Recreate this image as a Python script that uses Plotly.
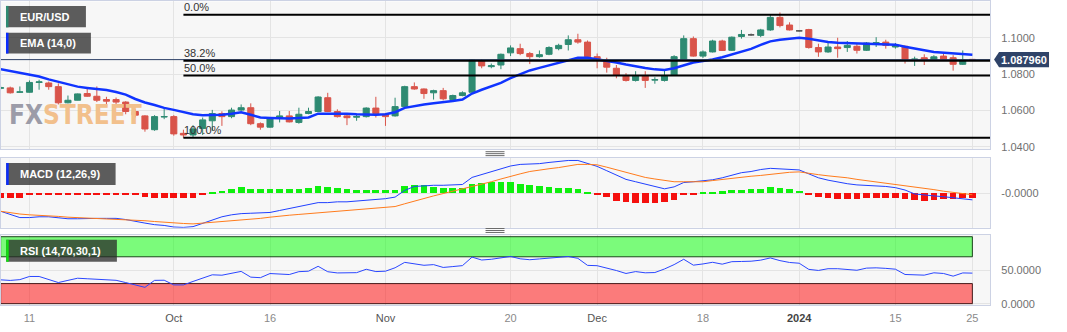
import plotly.graph_objects as go
import pandas as pd

W, H = 1067, 332

# ---------------- data ----------------
dates = [d.strftime("%Y-%m-%d") for d in pd.bdate_range("2023-09-06", "2024-01-25")]
tick_dates = ["2023-09-11", "2023-10-02", "2023-10-16", "2023-11-01", "2023-11-20",
              "2023-12-01", "2023-12-18", "2024-01-01", "2024-01-15", "2024-01-25"]
tick_text = ["11", "<span style='color:#555'>Oct</span>", "16", "<span style='color:#555'>Nov</span>", "20",
             "<span style='color:#555'>Dec</span>", "18", "<b><span style='color:#444'>2024</span></b>", "15", "25"]
flat_sessions = ["2023-12-25", "2024-01-01"]

open_ = [1.0722, 1.0724, 1.0700, 1.0700, 1.0754, 1.0751, 1.0731, 1.0642, 1.0656, 1.0693,
         1.0678, 1.0660, 1.0660, 1.0646, 1.0594, 1.0570, 1.0494, 1.0564, 1.0566, 1.0474,
         1.0465, 1.0501, 1.0543, 1.0583, 1.0566, 1.0602, 1.0615, 1.0527, 1.0508, 1.0561,
         1.0570, 1.0534, 1.0583, 1.0594, 1.0670, 1.0594, 1.0570, 1.0563, 1.0566, 1.0613,
         1.0579, 1.0570, 1.0621, 1.0731, 1.0718, 1.0697, 1.0709, 1.0660, 1.0682, 1.0700,
         1.0873, 1.0841, 1.0850, 1.0917, 1.0940, 1.0913, 1.0896, 1.0909, 1.0940, 1.0963,
         1.0989, 1.0976, 1.0896, 1.0873, 1.0832, 1.0790, 1.0765, 1.0790, 1.0767, 1.0765,
         1.0795, 1.0877, 1.0995, 1.0899, 1.0922, 1.0982, 1.0931, 1.1007, 1.1016, 1.1013,
         1.1043, 1.1112, 1.1070, 1.1038, 1.1045, 1.0946, 1.0922, 1.0949, 1.0946, 1.0953,
         1.0931, 1.0971, 1.0976, 1.0949, 1.0953, 1.0881, 1.0890, 1.0877, 1.0899, 1.0890,
         1.0854, 1.0881]
high = [1.0736, 1.0731, 1.0732, 1.0765, 1.0769, 1.0759, 1.0749, 1.0682, 1.0693, 1.0718,
        1.0732, 1.0675, 1.0671, 1.0651, 1.0606, 1.0574, 1.0574, 1.0610, 1.0574, 1.0494,
        1.0519, 1.0561, 1.0603, 1.0595, 1.0615, 1.0633, 1.0639, 1.0534, 1.0563, 1.0597,
        1.0597, 1.0615, 1.0615, 1.0678, 1.0697, 1.0606, 1.0579, 1.0579, 1.0617, 1.0675,
        1.0584, 1.0670, 1.0736, 1.0754, 1.0721, 1.0714, 1.0724, 1.0687, 1.0705, 1.0881,
        1.0881, 1.0858, 1.0913, 1.0958, 1.0967, 1.0922, 1.0930, 1.0953, 1.0967, 1.1013,
        1.1022, 1.0985, 1.0913, 1.0890, 1.0850, 1.0805, 1.0816, 1.0816, 1.0783, 1.0819,
        1.0904, 1.1013, 1.1007, 1.0930, 1.0989, 1.0989, 1.1007, 1.1043, 1.1023, 1.1049,
        1.1126, 1.1139, 1.1085, 1.1040, 1.1049, 1.0967, 1.0971, 1.1000, 1.0982, 1.0967,
        1.0976, 1.1003, 1.0989, 1.0971, 1.0958, 1.0896, 1.0909, 1.0904, 1.0913, 1.0904,
        1.0930, 1.0882]
low = [1.0714, 1.0693, 1.0698, 1.0698, 1.0714, 1.0714, 1.0633, 1.0639, 1.0655, 1.0675,
       1.0646, 1.0624, 1.0628, 1.0579, 1.0561, 1.0483, 1.0488, 1.0552, 1.0461, 1.0449,
       1.0454, 1.0465, 1.0488, 1.0515, 1.0557, 1.0597, 1.0519, 1.0494, 1.0505, 1.0534,
       1.0534, 1.0527, 1.0579, 1.0591, 1.0591, 1.0561, 1.0519, 1.0543, 1.0561, 1.0561,
       1.0515, 1.0566, 1.0615, 1.0714, 1.0664, 1.0660, 1.0656, 1.0651, 1.0678, 1.0698,
       1.0832, 1.0832, 1.0827, 1.0899, 1.0904, 1.0855, 1.0890, 1.0904, 1.0931, 1.0930,
       1.0967, 1.0890, 1.0832, 1.0808, 1.0777, 1.0759, 1.0759, 1.0724, 1.0747, 1.0759,
       1.0790, 1.0872, 1.0896, 1.0889, 1.0919, 1.0927, 1.0927, 1.0995, 1.1011, 1.1003,
       1.1038, 1.1057, 1.1040, 1.1034, 1.0940, 1.0895, 1.0917, 1.0890, 1.0922, 1.0913,
       1.0927, 1.0949, 1.0940, 1.0940, 1.0858, 1.0845, 1.0850, 1.0873, 1.0873, 1.0819,
       1.0850, 1.0877]
close = [1.0725, 1.0697, 1.0702, 1.0754, 1.0757, 1.0731, 1.0642, 1.0656, 1.0691, 1.0678,
         1.0656, 1.0651, 1.0646, 1.0594, 1.0574, 1.0498, 1.0566, 1.0566, 1.0471, 1.0465,
         1.0498, 1.0548, 1.0583, 1.0566, 1.0602, 1.0615, 1.0527, 1.0508, 1.0561, 1.0570,
         1.0537, 1.0579, 1.0594, 1.0674, 1.0594, 1.0566, 1.0560, 1.0566, 1.0613, 1.0583,
         1.0566, 1.0621, 1.0731, 1.0718, 1.0693, 1.0709, 1.0664, 1.0682, 1.0697, 1.0877,
         1.0845, 1.0846, 1.0909, 1.0944, 1.0913, 1.0896, 1.0907, 1.0946, 1.0958, 1.0989,
         1.0976, 1.0896, 1.0884, 1.0838, 1.0795, 1.0765, 1.0790, 1.0765, 1.0769, 1.0790,
         1.0896, 1.0995, 1.0899, 1.0922, 1.0982, 1.0930, 1.1003, 1.1018, 1.1016, 1.1043,
         1.1112, 1.1067, 1.1043, 1.1038, 1.0946, 1.0922, 1.0949, 1.0940, 1.0958, 1.0931,
         1.0971, 1.0972, 1.0958, 1.0958, 1.0881, 1.0882, 1.0877, 1.0895, 1.0881, 1.0854,
         1.0877, 1.08796]
ema14 = [1.0827, 1.0817, 1.0806, 1.0795, 1.0787, 1.0771, 1.0758, 1.0745, 1.0731, 1.0724,
         1.0718, 1.0712, 1.0701, 1.0687, 1.0663, 1.0644, 1.0630, 1.0614, 1.0603, 1.0590,
         1.0579, 1.0574, 1.0574, 1.0576, 1.0582, 1.0590, 1.0576, 1.0561, 1.0559, 1.0556,
         1.0556, 1.0559, 1.0561, 1.0582, 1.0583, 1.0583, 1.0582, 1.0579, 1.0576, 1.0576,
         1.0579, 1.0590, 1.0614, 1.0625, 1.0633, 1.0639, 1.0644, 1.0652, 1.0660, 1.0693,
         1.0714, 1.0731, 1.0752, 1.0778, 1.0798, 1.0820, 1.0834, 1.0847, 1.0861, 1.0874,
         1.0890, 1.0890, 1.0882, 1.0874, 1.0864, 1.0853, 1.0842, 1.0834, 1.0826, 1.0823,
         1.0832, 1.0850, 1.0864, 1.0872, 1.0880, 1.0893, 1.0907, 1.0923, 1.0939, 1.0961,
         1.0980, 1.0989, 1.0996, 1.1000, 1.0994, 1.0984, 1.0977, 1.0973, 1.0971, 1.0969,
         1.0967, 1.0966, 1.0965, 1.0962, 1.0950, 1.0939, 1.0931, 1.0922, 1.0918, 1.0913,
         1.0909, 1.0907]
macd = [-0.0045, -0.0054, -0.0061, -0.0061, -0.0059, -0.0059, -0.0061, -0.0064, -0.0064, -0.0063,
        -0.0063, -0.0063, -0.0063, -0.0066, -0.0071, -0.0075, -0.0079, -0.0081, -0.0085, -0.0086,
        -0.0084, -0.0075, -0.0066, -0.0059, -0.0054, -0.0051, -0.0050, -0.0049, -0.0048, -0.0043,
        -0.0038, -0.0033, -0.0028, -0.0023, -0.0023, -0.0021, -0.0021, -0.0019, -0.0017, -0.0015,
        -0.0013, -0.0009, 0.0008, 0.0018, 0.0020, 0.0021, 0.0021, 0.0022, 0.0023, 0.0041,
        0.0048, 0.0054, 0.0061, 0.0070, 0.0074, 0.0075, 0.0076, 0.0079, 0.0081, 0.0084,
        0.0084, 0.0076, 0.0069, 0.0058, 0.0046, 0.0036, 0.0030, 0.0024, 0.0018, 0.0012,
        0.0017, 0.0028, 0.0030, 0.0033, 0.0035, 0.0040, 0.0046, 0.0053, 0.0056, 0.0061,
        0.0064, 0.0063, 0.0062, 0.0060, 0.0050, 0.0040, 0.0034, 0.0029, 0.0025, 0.0022,
        0.0021, 0.0019, 0.0018, 0.0015, 0.0009, -0.0001, -0.0004, -0.0006, -0.0008, -0.0011,
        -0.0014, -0.0016]
signal = [-0.0045, -0.0049, -0.0052, -0.0054, -0.0055, -0.0057, -0.0058, -0.0060, -0.0061, -0.0062,
          -0.0063, -0.0064, -0.0066, -0.0067, -0.0068, -0.0069, -0.0071, -0.0073, -0.0075, -0.0076,
          -0.0077, -0.0075, -0.0073, -0.0072, -0.0070, -0.0068, -0.0066, -0.0063, -0.0060, -0.0057,
          -0.0055, -0.0053, -0.0051, -0.0049, -0.0047, -0.0044, -0.0042, -0.0040, -0.0039, -0.0037,
          -0.0035, -0.0033, -0.0026, -0.0019, -0.0013, -0.0006, 0.0000, 0.0006, 0.0012, 0.0018,
          0.0023, 0.0030, 0.0037, 0.0044, 0.0050, 0.0056, 0.0060, 0.0063, 0.0066, 0.0070,
          0.0074, 0.0074, 0.0073, 0.0067, 0.0060, 0.0053, 0.0046, 0.0041, 0.0037, 0.0033,
          0.0030, 0.0030, 0.0030, 0.0030, 0.0033, 0.0036, 0.0039, 0.0041, 0.0044, 0.0046,
          0.0049, 0.0051, 0.0054, 0.0055, 0.0051, 0.0048, 0.0045, 0.0043, 0.0040, 0.0036,
          0.0033, 0.0030, 0.0026, 0.0023, 0.0020, 0.0017, 0.0013, 0.0010, 0.0006, 0.0003,
          0.0000, -0.0003]
hist = [-0.0012, -0.0012, -0.0012, -0.0003, -0.0003, -0.0002, -0.0002, -0.0002, -0.0002, -0.0002,
        -0.0003, -0.0003, -0.0003, -0.0003, -0.0004, -0.0009, -0.0011, -0.0011, -0.0012, -0.0012,
        -0.0011, -0.0003, 0.0003, 0.0007, 0.0011, 0.0017, 0.0011, 0.0010, 0.0010, 0.0010,
        0.0011, 0.0011, 0.0013, 0.0018, 0.0016, 0.0013, 0.0010, 0.0009, 0.0009, 0.0009,
        0.0009, 0.0009, 0.0018, 0.0020, 0.0020, 0.0017, 0.0014, 0.0013, 0.0014, 0.0023,
        0.0026, 0.0028, 0.0028, 0.0028, 0.0025, 0.0021, 0.0018, 0.0015, 0.0014, 0.0014,
        0.0011, 0.0003, -0.0002, -0.0010, -0.0019, -0.0023, -0.0025, -0.0025, -0.0025, -0.0023,
        -0.0016, -0.0002, -0.0002, 0.0002, 0.0004, 0.0005, 0.0009, 0.0009, 0.0011, 0.0011,
        0.0015, 0.0013, 0.0011, 0.0007, -0.0002, -0.0010, -0.0013, -0.0015, -0.0015, -0.0015,
        -0.0013, -0.0012, -0.0012, -0.0012, -0.0015, -0.0017, -0.0019, -0.0016, -0.0015, -0.0015,
        -0.0013, -0.0011]
rsi = [35.6, 34.7, 35.9, 40.6, 40.6, 36.2, 31.5, 34.8, 38.0, 37.2,
       36.5, 36.0, 34.9, 31.5, 28.1, 24.4, 34.8, 35.0, 28.0, 28.0,
       33.2, 38.5, 43.1, 42.5, 45.5, 48.2, 39.6, 38.8, 45.0, 43.8,
       43.5, 47.8, 48.5, 55.8, 47.7, 45.9, 45.7, 46.3, 51.4, 47.9,
       48.5, 53.6, 61.7, 59.7, 57.3, 58.3, 54.1, 55.4, 56.8, 69.5,
       65.2, 66.3, 68.2, 70.5, 67.0, 65.6, 66.8, 68.0, 69.2, 70.4,
       67.7, 57.2, 56.7, 53.3, 49.5, 45.1, 47.9, 46.1, 46.5, 51.8,
       58.3, 66.3, 57.5, 59.3, 61.8, 59.0, 62.7, 63.0, 63.4, 65.0,
       68.3, 64.3, 61.5, 60.4, 51.2, 49.6, 52.2, 52.2, 50.8, 49.9,
       53.1, 53.5, 52.7, 51.5, 43.6, 43.1, 42.6, 46.1, 45.1, 41.1,
       45.9, 45.6]
rsi_levels = [30, 70]

fib_labels = ["0.0%", "38.2%", "50.0%", "100.0%"]
fib_prices = [1.1126, 1.0873, 1.0792, 1.0450]
fib_start = "2023-10-03"

# ---------------- styling / geometry ----------------
FONT = "Liberation Sans, Arial, sans-serif"
TEAL, RED, GREY = "#2e8a72", "#d9544a", "#555555"
GRID, BORDER, BG = "#e4e4e4", "#ccd2e4", "#f7f7f7"

def fx(px):
    return px / W

def fy(py):
    return 1 - py / H

n = len(dates)
xs = list(range(n))
tickvals = [dates.index(d) for d in tick_dates]
flat_idx = [dates.index(d) for d in flat_sessions]
main_idx = [k for k in xs if k not in flat_idx]
X_RANGE = [0.04, 102.84]
P_RANGE = [1.03865, 1.11995]
M_RANGE = [-0.00868, 0.00898]
R_RANGE = [-2.35, 102.5]
PX_PER_PRICE = 1845.0

fig = go.Figure()

# watermark (drawn first so the candles sit above it)
wx = X_RANGE[0] + (42 / 990) * (X_RANGE[1] - X_RANGE[0])
wy = P_RANGE[1] - (118 / 150) * (P_RANGE[1] - P_RANGE[0])
wm_font = "Liberation Sans Narrow, DejaVu Sans Condensed, Arial Narrow, sans-serif"
fig.add_trace(go.Scatter(x=[wx], y=[wy], mode="text", text=["<b>FX</b>"], textposition="middle left",
                         textfont=dict(family=wm_font, size=26, color="#9c9ca8"),
                         hoverinfo="skip", showlegend=False, xaxis="x", yaxis="y"))
fig.add_trace(go.Scatter(x=[wx], y=[wy], mode="text", text=["<b>STREET</b>"], textposition="middle right",
                         textfont=dict(family=wm_font, size=26, color="#f2c08c"),
                         hoverinfo="skip", showlegend=False, xaxis="x", yaxis="y"))

# candles
def pick(arr, idx):
    return [arr[k] for k in idx]

fig.add_trace(go.Candlestick(
    x=main_idx, open=pick(open_, main_idx), high=pick(high, main_idx),
    low=pick(low, main_idx), close=pick(close, main_idx),
    increasing=dict(line=dict(color=TEAL, width=1), fillcolor=TEAL),
    decreasing=dict(line=dict(color=RED, width=1), fillcolor=RED),
    whiskerwidth=0, showlegend=False, hoverinfo="skip", xaxis="x", yaxis="y"))
fig.add_trace(go.Candlestick(
    x=flat_idx, open=pick(open_, flat_idx), high=pick(high, flat_idx),
    low=pick(low, flat_idx), close=pick(close, flat_idx),
    increasing=dict(line=dict(color=GREY, width=1), fillcolor=GREY),
    decreasing=dict(line=dict(color=GREY, width=1), fillcolor=GREY),
    whiskerwidth=0, showlegend=False, hoverinfo="skip", xaxis="x", yaxis="y"))

fig.add_trace(go.Scatter(x=xs, y=ema14, mode="lines", line=dict(color="#1034ff", width=2.5),
                         showlegend=False, hoverinfo="skip", xaxis="x", yaxis="y"))

# MACD
fig.add_trace(go.Bar(x=xs, y=hist, width=0.7,
                     marker=dict(color=["#0ef00e" if v >= 0 else "#f5100e" for v in hist], line=dict(width=0)),
                     showlegend=False, hoverinfo="skip", xaxis="x2", yaxis="y2"))
fig.add_trace(go.Scatter(x=xs, y=macd, mode="lines", line=dict(color="#2040ff", width=1),
                         showlegend=False, hoverinfo="skip", xaxis="x2", yaxis="y2"))
fig.add_trace(go.Scatter(x=xs, y=signal, mode="lines", line=dict(color="#ff7b1c", width=1),
                         showlegend=False, hoverinfo="skip", xaxis="x2", yaxis="y2"))

# RSI
fig.add_trace(go.Scatter(x=xs, y=rsi, mode="lines", line=dict(color="#2a46ff", width=1),
                         showlegend=False, hoverinfo="skip", xaxis="x3", yaxis="y3"))

shapes = []
annotations = []

# RSI bands
shapes.append(dict(type="rect", xref="x3", yref="y3", x0=xs[0], x1=xs[-1], y0=rsi_levels[1], y1=100,
                   fillcolor="rgba(0,255,0,0.5)", line=dict(color="rgba(0,40,0,0.85)", width=1), layer="between"))
shapes.append(dict(type="rect", xref="x3", yref="y3", x0=xs[0], x1=xs[-1], y0=0, y1=rsi_levels[0],
                   fillcolor="rgba(255,0,0,0.5)", line=dict(color="rgba(40,0,0,0.85)", width=1), layer="between"))

# current price line
last = close[-1]
shapes.append(dict(type="line", xref="x domain", yref="y", x0=0, x1=1, y0=last, y1=last,
                   line=dict(color="#2c3f66", width=1)))

# Fibonacci levels
fs = dates.index(fib_start)
for lab, p in zip(fib_labels, fib_prices):
    shapes.append(dict(type="line", xref="x", yref="y", x0=fs, x1=X_RANGE[1], y0=p, y1=p,
                       line=dict(color="#000000", width=2)))
    annotations.append(dict(x=fs, y=p, xref="x", yref="y", text=lab, showarrow=False,
                            xanchor="left", yanchor="bottom", xshift=-1, yshift=0,
                            font=dict(family=FONT, size=11, color="#333333")))

# price tag
hh = 7.8 / PX_PER_PRICE
tag_path = (f"M {fx(994)},{last} L {fx(999)},{last + hh} L {fx(1049)},{last + hh} "
            f"L {fx(1049)},{last - hh} L {fx(999)},{last - hh} Z")
shapes.append(dict(type="path", xref="paper", yref="y", path=tag_path,
                   fillcolor="#2f4368", line=dict(width=0)))
annotations.append(dict(x=fx(1023.5), y=last, xref="paper", yref="y", text=f"<b>{last:.6f}</b>",
                        showarrow=False, xanchor="center", yanchor="middle",
                        font=dict(family=FONT, size=11, color="#ffffff")))

# indicator label boxes
boxes = [("EUR/USD", 5, 85, 5, 26.7, TEAL),
         ("EMA (14,0)", 5, 90, 32.3, 53.3, "#0a2cff"),
         ("MACD (12,26,9)", 5.2, 114.7, 164.5, 186.8, "#0a2cff"),
         ("RSI (14,70,30,1)", 5.2, 116, 242.5, 264.8, "#10e010")]
for text, x0, x1, y0, y1, c in boxes:
    shapes.append(dict(type="rect", xref="paper", yref="paper", x0=fx(x0), x1=fx(x1), y0=fy(y1), y1=fy(y0),
                       fillcolor="rgba(40,40,40,0.75)", line=dict(width=0), layer="above"))
    shapes.append(dict(type="rect", xref="paper", yref="paper", x0=fx(x0), x1=fx(x0 + 2.5), y0=fy(y1), y1=fy(y0),
                       fillcolor=c, line=dict(width=0), layer="above"))
    annotations.append(dict(x=fx(x0 + 12), y=fy((y0 + y1) / 2), xref="paper", yref="paper", text=f"<b>{text}</b>",
                            showarrow=False, xanchor="left", yanchor="middle",
                            font=dict(family=FONT, size=11, color="#ffffff")))

# panel separators (drag handles)
for ybase in (153, 231):
    for dy in (0, 2, 4):
        shapes.append(dict(type="line", xref="paper", yref="paper", x0=fx(485), x1=fx(504),
                           y0=fy(ybase + dy), y1=fy(ybase + dy), line=dict(color="#6a6a6a", width=1)))

xcommon = dict(range=X_RANGE, domain=[0, fx(990)], tickvals=tickvals, ticktext=tick_text,
               showgrid=True, gridcolor=GRID, gridwidth=1, zeroline=False,
               showline=True, mirror=True, linecolor=BORDER, linewidth=1, ticks="",
               tickfont=dict(family=FONT, size=11, color="#8a8a8a"), fixedrange=True)
ycommon = dict(side="right", showgrid=True, gridcolor=GRID, gridwidth=1, zeroline=False,
               showline=True, mirror=True, linecolor=BORDER, linewidth=1, ticks="",
               ticklabelstandoff=8, tickfont=dict(family=FONT, size=11, color="#707070"), fixedrange=True)

fig.update_layout(
    width=W, height=H, margin=dict(l=0, r=0, t=0, b=0),
    paper_bgcolor="#ffffff", plot_bgcolor=BG, showlegend=False,
    font=dict(family=FONT, size=11, color="#707070"),
    boxgap=0.1, boxgroupgap=0.3, bargap=0,
    xaxis=dict(xcommon, anchor="y", showticklabels=False, rangeslider=dict(visible=False)),
    xaxis2=dict(xcommon, anchor="y2", showticklabels=False, matches="x"),
    xaxis3=dict(xcommon, anchor="y3", showticklabels=True, matches="x", ticklabelstandoff=3),
    yaxis=dict(ycommon, anchor="x", domain=[fy(150.5), fy(0.5)], range=P_RANGE,
               tickvals=[1.04, 1.06, 1.08, 1.10], tickformat=".4f"),
    yaxis2=dict(ycommon, anchor="x2", domain=[fy(230.2), fy(159.6)], range=M_RANGE,
                tickvals=[0], ticktext=["-0.0000"]),
    yaxis3=dict(ycommon, anchor="x3", domain=[fy(308.9), fy(237.6)], range=R_RANGE,
                tickvals=[0, 50], ticktext=["0.0000", "50.0000"]),
    shapes=shapes, annotations=annotations,
)

fig.write_html("out.html")
